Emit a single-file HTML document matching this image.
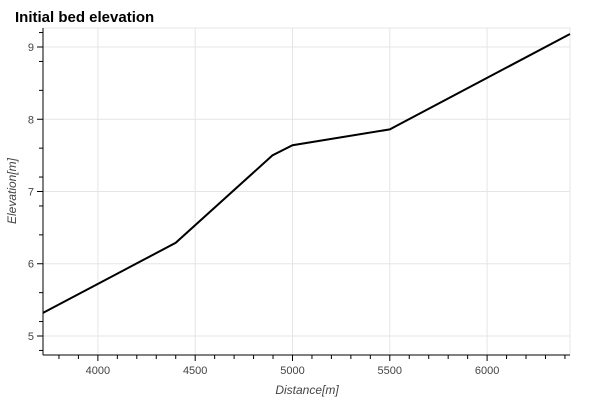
<!DOCTYPE html>
<html><head><meta charset="utf-8"><style>
html,body{margin:0;padding:0;background:#fff;width:600px;height:400px;overflow:hidden}
svg text{font-family:"Liberation Sans",sans-serif}
</style></head><body>
<svg id="chart" width="600" height="400">
<text x="15" y="22" font-size="15" font-weight="bold" fill="#000">Initial bed elevation</text>
<g id="grid"></g><g id="axes"></g><g id="series"></g>
<text x="307" y="394" font-size="12" font-style="italic" fill="#444" text-anchor="middle">Distance[m]</text>
<text transform="translate(16,191) rotate(-90)" font-size="12" font-style="italic" fill="#444" text-anchor="middle">Elevation[m]</text>
</svg>
<script>
const distances=[3718,4400,4897,5000,5500,6426];
const elevations=[5.32,6.29,7.5,7.64,7.86,9.18];
const xTicks=[4000,4500,5000,5500,6000];
const yTicks=[5,6,7,8,9];
const L=43,R=570,T=28,B=355;
const xMin=3718,xMax=6426,yMin=4.737,yMax=9.263;
const sx=v=>L+(v-xMin)/(xMax-xMin)*(R-L);
const sy=v=>B-(v-yMin)/(yMax-yMin)*(B-T);
const NS="http://www.w3.org/2000/svg";
function mk(parent,tag,at){const e=document.createElementNS(NS,tag);for(const k in at)e.setAttribute(k,at[k]);document.getElementById(parent).appendChild(e);return e;}
const outline=mk('grid','rect',{x:L,y:T,width:R-L,height:B-T,fill:'none',stroke:'#e5e5e5'});


xTicks.forEach(v=>{
 const g=mk('grid','line',{x1:sx(v),x2:sx(v),y1:T,y2:B,stroke:'#e5e5e5'});
 
 
 const t=mk('axes','line',{x1:sx(v),x2:sx(v),y1:B,y2:B+6,stroke:'#000'});
 
 
 const l=mk('axes','text',{x:sx(v),y:B+19,'font-size':11,fill:'#444','text-anchor':'middle'});
 l.textContent=v;
 
 
});
for(let v=3800;v<=6400;v+=100){if(v%500===0)continue;
 const m=mk('axes','line',{x1:sx(v),x2:sx(v),y1:B,y2:B+4,stroke:'#000'});
 
 }
yTicks.forEach(v=>{
 const g=mk('grid','line',{x1:L,x2:R,y1:sy(v),y2:sy(v),stroke:'#e5e5e5'});
 
 
 const t=mk('axes','line',{x1:L-6,x2:L,y1:sy(v),y2:sy(v),stroke:'#000'});
 
 
 const l=mk('axes','text',{x:L-9,y:sy(v)+4,'font-size':11,fill:'#444','text-anchor':'end'});
 l.textContent=v;
 
 
});
for(let i=24;i<=46;i+=2){const v=i/5;if(i%5===0)continue;
 const m=mk('axes','line',{x1:L-4,x2:L,y1:sy(v),y2:sy(v),stroke:'#000'});
 
 }
const xa=mk('axes','line',{x1:L,x2:R,y1:B,y2:B,stroke:'#000'});


const ya=mk('axes','line',{x1:L,x2:L,y1:T,y2:B,stroke:'#000'});


const pl=mk('series','polyline',{points:distances.map((d,i)=>sx(d)+','+sy(elevations[i])).join(' '),fill:'none',stroke:'#000','stroke-width':2});


</script>
</body></html>
